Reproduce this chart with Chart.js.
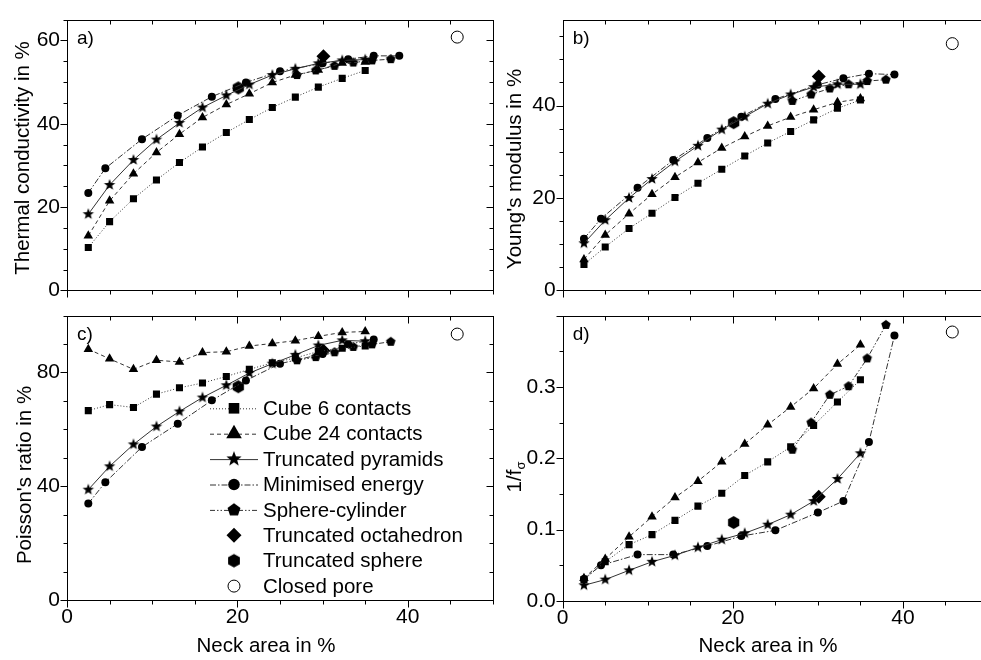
<!DOCTYPE html>
<html>
<head>
<meta charset="utf-8">
<script src="https://cdn.jsdelivr.net/npm/chart.js@4.4.1/dist/chart.umd.min.js"></script>
<style>
  html, body { margin: 0; padding: 0; background: #fff; width: 981px; height: 660px; overflow: hidden; }
  canvas { position: absolute; }
</style>
</head>
<body>
<canvas id="chartA" width="500" height="310" style="left:0;top:0"></canvas>
<canvas id="chartB" width="505" height="310" style="left:490px;top:0"></canvas>
<canvas id="chartC" width="500" height="364" style="left:0;top:296px"></canvas>
<canvas id="chartD" width="505" height="364" style="left:490px;top:296px"></canvas>
<script>
// ---- data ----
const seriesNames = ['Cube 6 contacts', 'Cube 24 contacts', 'Truncated pyramids', 'Minimised energy',
  'Sphere-cylinder', 'Truncated octahedron', 'Truncated sphere', 'Closed pore'];

// neck area in % for each geometry
const neckCube = [2.5, 5.0, 7.8, 10.5, 13.2, 15.9, 18.7, 21.4, 24.1, 26.8, 29.5, 32.3, 35.0];
const neckEnergy = [2.5, 4.5, 8.8, 13.0, 17.0, 21.0, 25.0, 30.0, 33.0, 36.0, 39.0];
const neckSphCyl = [27.0, 29.2, 31.4, 33.6, 35.8, 38.0];
const neckOcta = [30.1];
const neckTruncSph = [20.1];
const neckPore = [45.8];

// a) thermal conductivity in %
const condCube6 = [10.3, 16.5, 22.0, 26.5, 30.7, 34.4, 37.9, 41.0, 43.9, 46.4, 48.8, 50.9, 52.8];
const condCube24 = [13.1, 21.5, 28.0, 33.1, 37.5, 41.5, 44.6, 47.2, 49.9, 51.7, 52.9, 54.6, 54.8];
const condPyramid = [18.3, 25.3, 31.3, 36.2, 40.2, 43.9, 46.8, 49.4, 51.7, 53.2, 54.5, 55.2, 55.4];
const condEnergy = [23.4, 29.3, 36.3, 42.0, 46.5, 49.9, 52.6, 54.5, 55.5, 56.3, 56.3];
const condSphCyl = [51.7, 52.8, 53.9, 54.7, 55.2, 55.5];
const condOcta = [56.2];
const condTruncSph = [48.6];
const condPore = [60.8];

// b) Young's modulus in %
const youngCube6 = [5.6, 9.4, 13.4, 16.7, 20.1, 23.2, 26.2, 29.1, 31.9, 34.4, 36.9, 39.4, 41.2];
const youngCube24 = [6.7, 12.0, 16.6, 20.8, 24.5, 27.7, 30.8, 33.3, 35.6, 37.5, 39.1, 40.7, 41.5];
const youngPyramid = [10.2, 15.2, 20.0, 24.1, 27.9, 31.3, 34.8, 37.6, 40.4, 42.4, 44.0, 44.6, 44.6];
const youngEnergy = [11.2, 15.5, 22.2, 28.2, 33.0, 37.6, 41.4, 44.5, 45.9, 46.9, 46.7];
const youngSphCyl = [41.0, 42.4, 43.7, 44.6, 45.3, 45.6];
const youngOcta = [46.3];
const youngTruncSph = [36.3];
const youngPore = [53.4];

// c) Poisson's ratio in %
const poissonCube6 = [66.6, 68.7, 67.7, 72.4, 74.6, 76.3, 78.6, 81.1, 83.4, 85.1, 87.4, 88.5, 89.3];
const poissonCube24 = [88.2, 84.8, 81.1, 84.3, 83.7, 87.0, 87.3, 89.3, 90.2, 91.2, 92.7, 94.1, 94.4];
const poissonPyramid = [38.8, 47.0, 54.7, 61.0, 66.3, 71.2, 75.5, 79.8, 83.1, 86.2, 89.5, 91.3, 91.0];
const poissonEnergy = [33.9, 41.4, 53.8, 62.0, 70.2, 77.2, 83.1, 86.5, 89.9, 91.6, null];
const poissonSphCyl = [84.3, 85.4, 87.1, 89.0, 89.9, 90.8];
const poissonOcta = [87.6];
const poissonTruncSph = [75.0];
const poissonPore = [93.5];

// d) 1/f_sigma
const invfCube6 = [0.030, 0.055, 0.079, 0.093, 0.113, 0.133, 0.151, 0.176, 0.195, 0.216, 0.246, 0.279, 0.310];
const invfCube24 = [0.032, 0.059, 0.090, 0.118, 0.145, 0.168, 0.195, 0.220, 0.247, 0.272, 0.298, 0.332, 0.359];
const invfPyramid = [0.022, 0.030, 0.043, 0.055, 0.064, 0.075, 0.086, 0.095, 0.107, 0.121, 0.140, 0.171, 0.207];
const invfEnergy = [0.031, 0.050, 0.065, 0.065, 0.077, 0.091, 0.099, 0.124, 0.140, 0.223, 0.372];
const invfSphCyl = [0.212, 0.250, 0.289, 0.301, 0.340, 0.387];
const invfOcta = [0.146];
const invfTruncSph = [0.110];
const invfPore = [0.377];

// axes
const xRange = [0, 50];
const xTicks = [0, 20, 40];
const condRange = [0, 65];
const condTicks = [0, 20, 40, 60];
const youngRange = [0, 58.6];
const youngTicks = [0, 20, 40];
const poissonRange = [0, 100];
const poissonTicks = [0, 40, 80];
const invfRange = [0, 0.4];
const invfTicks = [0, 0.1, 0.2, 0.3];

const FONT = "'Liberation Sans', Arial, sans-serif";
const LINE = '#333';

// filled marker shapes Chart.js has no built-in for
function shapeCanvas(kind, r) {
  const size = Math.ceil(2 * r + 2);
  const c = document.createElement('canvas');
  c.width = c.height = size;
  const g = c.getContext('2d');
  const m = size / 2;
  g.fillStyle = '#000';
  g.beginPath();
  if (kind === 'star') {
    for (let i = 0; i < 10; i++) {
      const rr = i % 2 ? r * 0.42 : r;
      const t = -Math.PI / 2 + i * Math.PI / 5;
      g.lineTo(m + rr * Math.cos(t), m + rr * Math.sin(t));
    }
  } else {
    const n = kind === 'pentagon' ? 5 : 6;
    for (let i = 0; i < n; i++) {
      const t = -Math.PI / 2 + i * 2 * Math.PI / n;
      g.lineTo(m + r * Math.cos(t), m + r * Math.sin(t));
    }
  }
  g.closePath();
  g.fill();
  return c;
}

const markers = [
  { pointStyle: 'rect', pointRadius: 5, borderDash: [1, 2], showLine: true },
  { pointStyle: 'triangle', pointRadius: 5.5, borderDash: [4, 3], showLine: true },
  { pointStyle: shapeCanvas('star', 6), pointRadius: 6, borderDash: [], showLine: true },
  { pointStyle: 'circle', pointRadius: 4, borderDash: [6, 2, 1.5, 2], showLine: true },
  { pointStyle: shapeCanvas('pentagon', 5), pointRadius: 5, borderDash: [5, 2, 1.5, 2, 1.5, 2], showLine: true },
  { pointStyle: 'rectRot', pointRadius: 7, showLine: false },
  { pointStyle: shapeCanvas('hexagon', 6.5), pointRadius: 6.5, showLine: false },
  { pointStyle: 'circle', pointRadius: 6, showLine: false, open: true }
];
const legendMarkers = [
  { kind: 'rect', r: 7.5 }, { kind: 'triangle', r: 9 }, { img: shapeCanvas('star', 8) },
  { kind: 'circle', r: 5.8 }, { img: shapeCanvas('pentagon', 6.8) }, { kind: 'rectRot', r: 7.5 },
  { img: shapeCanvas('hexagon', 6.8) }, { kind: 'circle', r: 6, open: true }
];
const neckSets = [neckCube, neckCube, neckCube, neckEnergy, neckSphCyl, neckOcta, neckTruncSph, neckPore];

function buildDatasets(values) {
  return values.map((ys, k) => {
    const m = markers[k];
    return {
      label: seriesNames[k],
      data: neckSets[k].map((x, i) => ({ x: x, y: ys[i] })),
      showLine: m.showLine,
      borderColor: LINE,
      borderWidth: 1,
      borderDash: m.borderDash || [],
      pointStyle: m.pointStyle,
      pointRadius: m.pointRadius,
      pointBackgroundColor: m.open ? '#fff' : '#000',
      pointBorderColor: '#000',
      pointBorderWidth: m.open ? 1 : 0,
      legendIndex: k
    };
  });
}

function drawLegendMarker(ctx, lm, x, y) {
  if (lm.img) { ctx.drawImage(lm.img, x - lm.img.width / 2, y - lm.img.height / 2); return; }
  const r = lm.r;
  ctx.beginPath();
  if (lm.kind === 'rect') {
    const s = r * Math.SQRT1_2;
    ctx.rect(x - s, y - s, 2 * s, 2 * s);
  } else if (lm.kind === 'triangle') {
    for (let i = 0; i < 3; i++) {
      const t = -Math.PI / 2 + i * 2 * Math.PI / 3;
      ctx.lineTo(x + r * Math.cos(t), y + r * Math.sin(t));
    }
    ctx.closePath();
  } else if (lm.kind === 'rectRot') {
    ctx.moveTo(x, y - r); ctx.lineTo(x + r, y); ctx.lineTo(x, y + r); ctx.lineTo(x - r, y); ctx.closePath();
  } else {
    ctx.arc(x, y, r, 0, Math.PI * 2);
  }
  if (lm.open) {
    ctx.fillStyle = '#fff'; ctx.fill();
    ctx.lineWidth = 1; ctx.strokeStyle = '#000'; ctx.setLineDash([]); ctx.stroke();
  } else {
    ctx.fillStyle = '#000'; ctx.fill();
  }
}

// frame, mirrored ticks, panel letter, axis titles and the inside legend
const framePlugin = {
  id: 'frame',
  afterDatasetsDraw(chart, args, o) {
    const { ctx, chartArea: a, scales: { x, y } } = chart;
    ctx.save();
    ctx.strokeStyle = '#000';
    ctx.lineWidth = 1;
    ctx.setLineDash([]);
    const L = Math.round(a.left) + 0.5, R = Math.round(a.right) + 0.5;
    const T = Math.round(a.top) + 0.5, B = Math.round(a.bottom) + 0.5;
    ctx.strokeRect(L, T, R - L, B - T);
    const seg = (x1, y1, x2, y2) => { ctx.beginPath(); ctx.moveTo(x1, y1); ctx.lineTo(x2, y2); ctx.stroke(); };
    const isMajor = (v, step) => Math.abs(v / step - Math.round(v / step)) < 1e-6;

    let n = Math.round((x.max - x.min) / o.xMinor);
    for (let i = 0; i <= n; i++) {
      const v = x.min + i * o.xMinor;
      const px = Math.round(x.getPixelForValue(v)) + 0.5;
      const len = isMajor(v, o.xMajor) ? 7 : 4;
      seg(px, B, px, B + len);
      seg(px, T, px, T + len);
    }
    n = Math.round((y.max - y.min) / o.yMinor);
    for (let i = 0; i <= n; i++) {
      const v = y.min + i * o.yMinor;
      if (v > y.max + 1e-9) break;
      const py = Math.round(y.getPixelForValue(v)) + 0.5;
      const len = isMajor(v, o.yMajor) ? 7 : 4;
      seg(L, py, L - len, py);
      seg(R, py, R - len, py);
    }

    ctx.fillStyle = '#000';
    ctx.font = '19px ' + FONT;
    ctx.textAlign = 'left';
    ctx.textBaseline = 'alphabetic';
    ctx.fillText(o.label, a.left + 10, a.top + 24);

    ctx.font = '20.5px ' + FONT;
    if (o.xTitle) {
      ctx.textAlign = 'center';
      ctx.fillText(o.xTitle, o.xTitleAt[0], o.xTitleAt[1]);
    }
    ctx.save();
    ctx.translate(o.yTitleAt[0], o.yTitleAt[1]);
    ctx.rotate(-Math.PI / 2);
    ctx.textAlign = 'center';
    if (o.yTitleSub) {
      const w1 = ctx.measureText(o.yTitle).width;
      ctx.font = '13px ' + FONT;
      const w2 = ctx.measureText(o.yTitleSub).width;
      ctx.textAlign = 'left';
      ctx.font = '20.5px ' + FONT;
      ctx.fillText(o.yTitle, -(w1 + w2) / 2, 0);
      ctx.font = '13px ' + FONT;
      ctx.fillText(o.yTitleSub, -(w1 + w2) / 2 + w1, 4);
    } else {
      ctx.fillText(o.yTitle, 0, 0);
    }
    ctx.restore();

    if (o.legend) {
      const lg = o.legend;
      chart.data.datasets.forEach((ds, i) => {
        const cy = lg.top + i * lg.step;
        if (ds.showLine) {
          ctx.strokeStyle = LINE;
          ctx.lineWidth = 1;
          ctx.setLineDash(ds.borderDash);
          seg(lg.lineFrom, cy + 0.5, lg.lineTo, cy + 0.5);
          ctx.setLineDash([]);
        }
        drawLegendMarker(ctx, legendMarkers[ds.legendIndex], lg.marker, cy);
        ctx.fillStyle = '#000';
        ctx.font = '20.5px ' + FONT;
        ctx.textAlign = 'left';
        ctx.textBaseline = 'middle';
        ctx.fillText(ds.label, lg.text, cy + 1);
      });
    }
    ctx.restore();
  }
};

function axis(range, ticks, fmt, showLabels, size, dim, pad) {
  return {
    type: 'linear',
    min: range[0],
    max: range[1],
    afterBuildTicks: s => { s.ticks = ticks.map(v => ({ value: v })); },
    afterFit: s => { s[dim] = size; },
    ticks: {
      display: showLabels, callback: fmt, autoSkip: false, maxRotation: 0,
      font: { family: FONT, size: 21 }, color: '#000', padding: pad
    },
    grid: { display: false, drawTicks: false },
    border: { display: false }
  };
}

function makeChart(id, cfg) {
  return new Chart(document.getElementById(id), {
    type: 'scatter',
    data: { datasets: buildDatasets(cfg.values) },
    options: {
      responsive: false,
      animation: false,
      events: [],
      layout: { padding: cfg.padding },
      plugins: { legend: { display: false }, tooltip: { enabled: false }, frame: cfg.frame },
      scales: {
        x: axis(xRange, xTicks, v => String(v), cfg.xLabels, cfg.xHeight, 'height', 5),
        y: axis(cfg.yRange, cfg.yTicks, cfg.yFormat || (v => String(v)), true, cfg.yWidth, 'width', 7)
      }
    },
    plugins: [framePlugin]
  });
}

makeChart('chartA', {
  values: [condCube6, condCube24, condPyramid, condEnergy, condSphCyl, condOcta, condTruncSph, condPore],
  yRange: condRange, yTicks: condTicks, yWidth: 67, xHeight: 7, xLabels: false,
  padding: { top: 7, right: 7, left: 0, bottom: 0 },
  frame: { label: 'a)', xMinor: 5, xMajor: 20, yMinor: 5, yMajor: 20,
    yTitle: 'Thermal conductivity in %', yTitleAt: [29, 158] }
});
makeChart('chartB', {
  values: [youngCube6, youngCube24, youngPyramid, youngEnergy, youngSphCyl, youngOcta, youngTruncSph, youngPore],
  yRange: youngRange, yTicks: youngTicks, yWidth: 72.7, xHeight: 7, xLabels: false,
  padding: { top: 7, right: 6.3, left: 0, bottom: 0 },
  frame: { label: 'b)', xMinor: 5, xMajor: 20, yMinor: 5, yMajor: 20,
    yTitle: "Young's modulus in %", yTitleAt: [31, 169] }
});
makeChart('chartC', {
  values: [poissonCube6, poissonCube24, poissonPyramid, poissonEnergy, poissonSphCyl, poissonOcta, poissonTruncSph, poissonPore],
  yRange: poissonRange, yTicks: poissonTicks, yWidth: 67, xHeight: 60, xLabels: true,
  padding: { top: 7, right: 7, left: 0, bottom: 0 },
  frame: { label: 'c)', xMinor: 5, xMajor: 20, yMinor: 10, yMajor: 40,
    yTitle: "Poisson's ratio in %", yTitleAt: [31, 179],
    xTitle: 'Neck area in %', xTitleAt: [266, 355.5],
    legend: { top: 112.3, step: 25.4, lineFrom: 210, lineTo: 258, marker: 234, text: 263 } }
});
makeChart('chartD', {
  values: [invfCube6, invfCube24, invfPyramid, invfEnergy, invfSphCyl, invfOcta, invfTruncSph, invfPore],
  yRange: invfRange, yTicks: invfTicks, yFormat: v => v.toFixed(1), yWidth: 72.7, xHeight: 59, xLabels: true,
  padding: { top: 7, right: 6.3, left: 0, bottom: 0 },
  frame: { label: 'd)', xMinor: 5, xMajor: 20, yMinor: 0.05, yMajor: 0.1,
    yTitle: '1/f', yTitleSub: 'σ', yTitleAt: [31, 181],
    xTitle: 'Neck area in %', xTitleAt: [278, 355.5] }
});
</script>
</body>
</html>
